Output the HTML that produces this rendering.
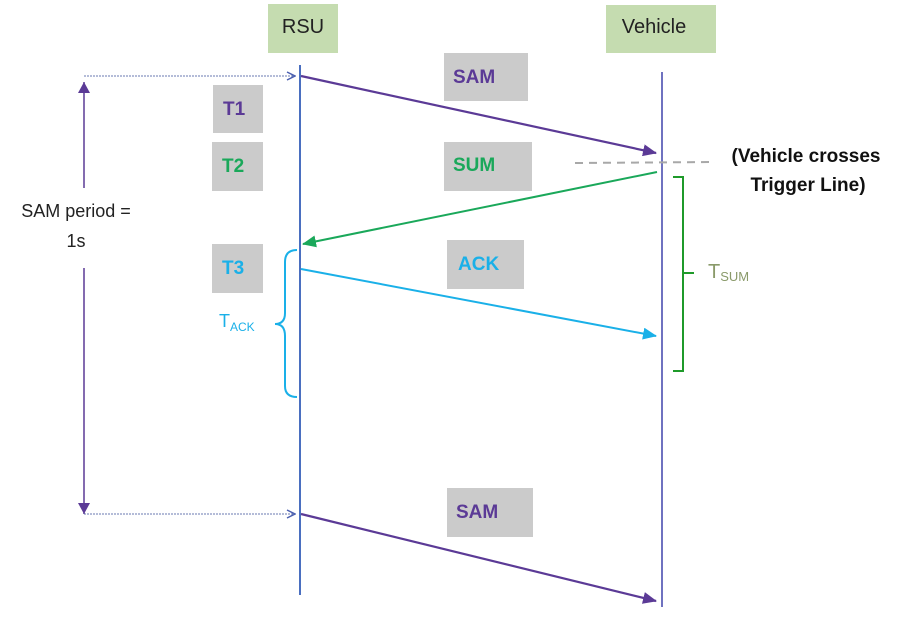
<!DOCTYPE html>
<html><head><meta charset="utf-8"><style>
html,body{margin:0;padding:0;background:#fff;}
svg{display:block;font-family:"Liberation Sans",sans-serif;}
</style></head><body>
<svg width="900" height="621" viewBox="0 0 900 621" xmlns="http://www.w3.org/2000/svg">
<defs>
<marker id="ap" markerWidth="14" markerHeight="12" refX="13" refY="6" orient="auto" markerUnits="userSpaceOnUse"><path d="M0,0 L14,6 L0,12 Z" fill="#5b3a96"/></marker>
<marker id="ag" markerWidth="14" markerHeight="12" refX="13" refY="6" orient="auto" markerUnits="userSpaceOnUse"><path d="M0,0 L14,6 L0,12 Z" fill="#1aa85a"/></marker>
<marker id="ab" markerWidth="14" markerHeight="12" refX="13" refY="6" orient="auto" markerUnits="userSpaceOnUse"><path d="M0,0 L14,6 L0,12 Z" fill="#1ab0e8"/></marker>
<marker id="ad" markerWidth="12" markerHeight="12" refX="11" refY="6" orient="auto" markerUnits="userSpaceOnUse"><path d="M0,0 L11,6 L0,12 Z" fill="#5b3a96"/></marker>
<marker id="ao" markerWidth="10" markerHeight="10" refX="9" refY="5" orient="auto" markerUnits="userSpaceOnUse"><path d="M1,1 L9,5 L1,9" fill="none" stroke="#4a5fb0" stroke-width="1.5"/></marker>
</defs>
<rect x="268" y="4" width="70" height="49" fill="#c5dcb0"/>
<text x="303" y="33" font-size="20" text-anchor="middle" fill="#222">RSU</text>
<rect x="606" y="5" width="110" height="48" fill="#c5dcb0"/>
<text x="654" y="33" font-size="20" text-anchor="middle" fill="#222">Vehicle</text>
<g fill="#cbcbcb">
<rect x="444" y="53" width="84" height="48"/>
<rect x="213" y="85" width="50" height="48"/>
<rect x="212" y="142" width="51" height="49"/>
<rect x="444" y="142" width="88" height="49"/>
<rect x="212" y="244" width="51" height="49"/>
<rect x="447" y="240" width="77" height="49"/>
<rect x="447" y="488" width="86" height="49"/>
</g>
<g font-size="19" font-weight="bold">
<text x="453" y="83" fill="#5b3a96">SAM</text>
<text x="223" y="115" fill="#5b3a96">T1</text>
<text x="222" y="172" fill="#1aa85a">T2</text>
<text x="453" y="171" fill="#1aa85a">SUM</text>
<text x="222" y="274" fill="#1ab0e8">T3</text>
<text x="458" y="270" fill="#1ab0e8">ACK</text>
<text x="456" y="518" fill="#5b3a96">SAM</text>
</g>
<line x1="300" y1="65" x2="300" y2="595" stroke="#4a6fc0" stroke-width="2"/>
<line x1="662" y1="72" x2="662" y2="607" stroke="#6f72c0" stroke-width="2"/>
<line x1="575" y1="163" x2="715" y2="162" stroke="#a8a8a8" stroke-width="2" stroke-dasharray="8,6"/>
<line x1="301" y1="76" x2="656" y2="153" stroke="#5b3a96" stroke-width="2.2" marker-end="url(#ap)"/>
<line x1="657" y1="172" x2="303" y2="244" stroke="#1aa85a" stroke-width="2" marker-end="url(#ag)"/>
<line x1="301" y1="269" x2="656" y2="336" stroke="#1ab0e8" stroke-width="2" marker-end="url(#ab)"/>
<line x1="301" y1="514" x2="656" y2="601" stroke="#5b3a96" stroke-width="2.2" marker-end="url(#ap)"/>
<line x1="84" y1="76" x2="295" y2="76" stroke="#6a7ab0" stroke-width="1" stroke-dasharray="2,1" marker-end="url(#ao)"/>
<line x1="84" y1="514" x2="295" y2="514" stroke="#6a7ab0" stroke-width="1" stroke-dasharray="2,1" marker-end="url(#ao)"/>
<line x1="84" y1="188" x2="84" y2="82" stroke="#5b3a96" stroke-width="1.5" marker-end="url(#ad)"/>
<line x1="84" y1="268" x2="84" y2="514" stroke="#5b3a96" stroke-width="1.5" marker-end="url(#ad)"/>
<text x="76" y="217" font-size="18" text-anchor="middle" fill="#222">SAM period =</text>
<text x="76" y="247" font-size="18" text-anchor="middle" fill="#222">1s</text>
<g font-size="19" font-weight="bold" fill="#111" text-anchor="middle">
<text x="806" y="162">(Vehicle crosses</text>
<text x="808" y="191">Trigger Line)</text>
</g>
<path d="M673,177 L683,177 L683,371 L673,371 M683,273 L694,273" fill="none" stroke="#1f9a2a" stroke-width="2"/>
<text x="708" y="278" font-size="20" fill="#8a9a6a">T<tspan font-size="13" dy="3">SUM</tspan></text>
<path d="M297,250 Q285,250 285,262 L285,313 Q285,324 275,324 Q285,324 285,336 L285,386 Q285,397 297,397" fill="none" stroke="#1ab0e8" stroke-width="2"/>
<text x="219" y="327" font-size="18" fill="#1ab0e8">T<tspan font-size="12" dy="4">ACK</tspan></text>
</svg>
</body></html>
